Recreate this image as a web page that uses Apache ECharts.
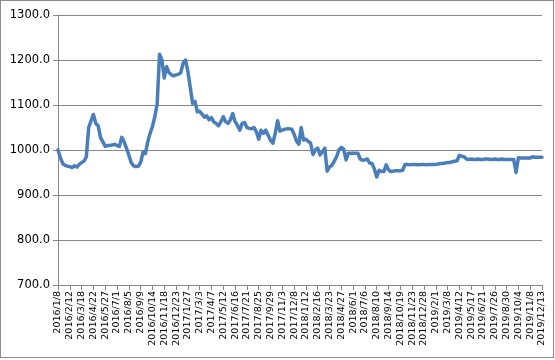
<!DOCTYPE html>
<html>
<head>
<meta charset="utf-8">
<script src="https://cdn.jsdelivr.net/npm/echarts@6/dist/echarts.min.js"></script>
<style>
html,body{margin:0;padding:0;background:#fff;}
#frame{position:absolute;left:0;top:0;width:554px;height:358px;box-sizing:border-box;border:1px solid #8a8a8a;}
#chart{position:absolute;left:0;top:0;width:555px;height:360px;}
</style>
</head>
<body>
<div id="chart"></div>
<div id="frame"></div>
<script>
// Weekly categories from 2016/1/8 to 2019/12/13
const startDate = [2016, 1, 8];
const weekCount = 206;
const categories = [];
(function(){
  const d = new Date(startDate[0], startDate[1]-1, startDate[2], 12);
  for (let i = 0; i < weekCount; i++) {
    categories.push(d.getFullYear() + '/' + (d.getMonth()+1) + '/' + d.getDate());
    d.setDate(d.getDate() + 7);
  }
})();

const values = [
  1000, 983, 970, 966, 964, 963, 961, 965, 962, 968,
  972, 975, 985, 1050, 1065, 1079, 1059, 1054, 1028, 1018,
  1008, 1010, 1010, 1011, 1013, 1010, 1008, 1028, 1018, 1004,
  989, 972, 965, 963, 964, 972, 995, 992, 1018, 1037,
  1052, 1074, 1102, 1213, 1200, 1160, 1185, 1172, 1167, 1165,
  1167, 1168, 1172, 1193, 1200, 1175, 1140, 1104, 1108, 1085,
  1086, 1080, 1073, 1076, 1067, 1072, 1062, 1059, 1054, 1063,
  1074, 1063, 1059, 1067, 1081, 1063, 1055, 1044, 1059, 1061,
  1050, 1048, 1047, 1050, 1041, 1024, 1044, 1037, 1044, 1033,
  1022, 1015, 1037, 1065, 1042, 1044, 1046, 1047, 1047, 1046,
  1035, 1020, 1013, 1050, 1022, 1024, 1019, 1015, 990, 1000,
  1004, 989, 996, 1004, 953, 962, 966, 975, 985, 1000,
  1006, 1002, 978, 993, 993, 993, 993, 993, 980, 977,
  978, 980, 971, 970, 958, 940, 955, 952, 952, 967,
  956, 952, 953, 954, 954, 954, 955, 968, 968, 967,
  968, 968, 967, 967, 968, 968, 967, 968, 968, 968,
  968, 969, 970, 970, 971, 972, 972, 974, 975, 976,
  988, 986, 985, 980, 979, 980, 979, 979, 980, 979,
  979, 980, 980, 979, 979, 980, 979, 979, 980, 979,
  979, 979, 979, 979, 950, 983, 982, 982, 982, 982,
  982, 985, 984, 984, 984, 984
];

const yMin = 700, yMax = 1300, yStep = 100;

const chart = echarts.init(document.getElementById('chart'), null, {renderer: 'canvas'});
chart.setOption({
  animation: false,
  backgroundColor: '#ffffff',
  grid: {left: 58, right: 13, top: 15, bottom: 75, containLabel: false},
  xAxis: {
    type: 'category',
    data: categories,
    boundaryGap: false,
    axisLine: {lineStyle: {color: '#868686', width: 1}},
    axisTick: {show: true, interval: 4, length: 5, lineStyle: {color: '#868686'}},
    axisLabel: {
      interval: 4, rotate: 90, margin: 6,
      fontFamily: 'DejaVu Sans', fontSize: 9.5, color: '#000'
    },
    splitLine: {show: false}
  },
  yAxis: {
    type: 'value',
    min: yMin, max: yMax, interval: yStep,
    axisLine: {show: true, lineStyle: {color: '#868686', width: 1}},
    axisTick: {show: true, length: 5, lineStyle: {color: '#868686'}},
    axisLabel: {
      margin: 8,
      fontFamily: 'DejaVu Sans', fontSize: 11.5, color: '#000',
      formatter: v => v.toFixed(1)
    },
    splitLine: {show: true, lineStyle: {color: '#868686', width: 1}}
  },
  series: [{
    type: 'line',
    data: values,
    showSymbol: false,
    symbol: 'none',
    lineStyle: {color: '#4a7ebb', width: 3.5, join: 'round', cap: 'round'},
    itemStyle: {color: '#4a7ebb'}
  }]
});
</script>
</body>
</html>
